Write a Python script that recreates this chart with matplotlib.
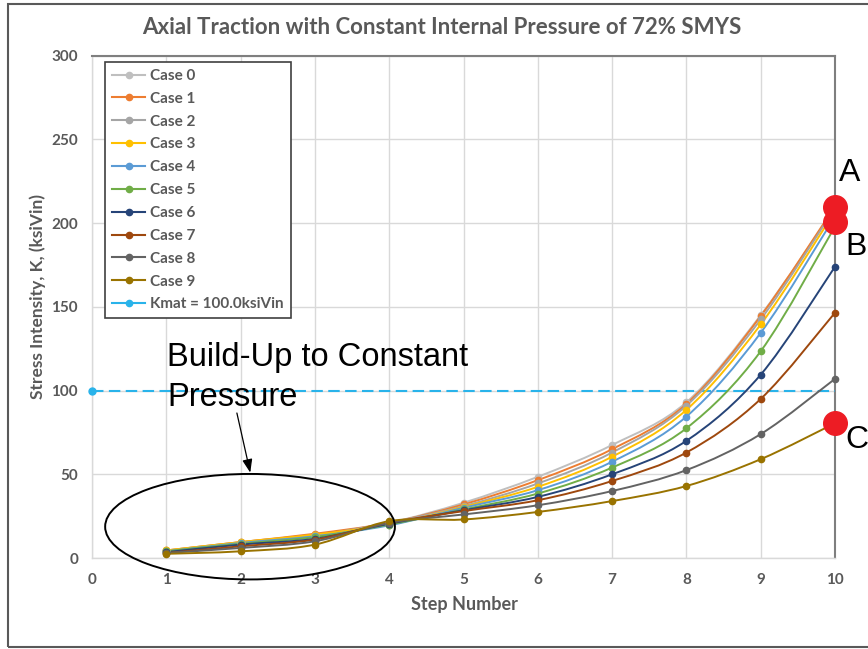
import matplotlib
matplotlib.use("Agg")
import matplotlib.pyplot as plt
from matplotlib.path import Path
from matplotlib.patches import PathPatch, Ellipse, Rectangle
from matplotlib.lines import Line2D

# ---- data -------------------------------------------------------------
steps = [1, 2, 3, 4, 5, 6, 7, 8, 9, 10]
case_names = ["Case 0", "Case 1", "Case 2", "Case 3", "Case 4",
              "Case 5", "Case 6", "Case 7", "Case 8", "Case 9"]
case0 = [4.5, 9.5, 14.0, 21.0, 33.0, 48.5, 67.5, 93.0, 145.0, 209.0]
case1 = [4.5, 9.5, 14.5, 21.0, 32.0, 46.5, 65.0, 92.0, 144.5, 210.0]
case2 = [4.0, 9.0, 13.5, 21.0, 31.0, 44.5, 63.0, 91.0, 142.5, 209.0]
case3 = [4.5, 9.5, 14.0, 20.0, 30.5, 42.5, 60.5, 88.5, 139.5, 207.0]
case4 = [4.0, 9.0, 13.0, 19.5, 30.0, 40.5, 57.5, 84.5, 134.5, 204.0]
case5 = [4.0, 8.5, 12.5, 20.0, 29.0, 38.5, 54.0, 77.5, 123.5, 198.0]
case6 = [3.5, 8.0, 11.5, 20.5, 28.5, 36.5, 50.0, 70.0, 109.5, 174.0]
case7 = [3.0, 7.0, 11.0, 21.0, 28.0, 34.5, 46.0, 63.0, 95.0, 146.5]
case8 = [3.0, 6.0, 10.0, 21.0, 26.0, 31.5, 40.0, 52.5, 74.0, 107.0]
case9 = [2.5, 4.0, 8.0, 22.0, 23.0, 27.5, 34.0, 43.0, 59.0, 80.5]
cases = [case0, case1, case2, case3, case4, case5, case6, case7, case8, case9]

kmat_label = "Kmat = 100.0ksiVin"
kmat_x = [0, 10]
kmat_y = [100.0, 100.0]

# highlighted end points
point_labels = ["A", "B", "C"]
point_x = [10, 10, 10]
point_y = [209.5, 200.5, 80.5]

x_ticks = list(range(0, 11))
y_ticks = [0, 50, 100, 150, 200, 250, 300]

# ---- style ------------------------------------------------------------
colors = ["#BFBFBF", "#ED7D31", "#A5A5A5", "#FFC000", "#5B9BD5",
          "#70AD47", "#264478", "#9E480E", "#636363", "#997300"]
kmat_color = "#29B3EA"
text_gray = "#595959"
grid_gray = "#D9D9D9"
ui_font = ["Lato", "DejaVu Sans"]
note_font = ["Liberation Sans", "DejaVu Sans"]


def smooth_path(xs, ys):
    """Cubic Bezier path through the points (Catmull-Rom style smoothing)."""
    pts = list(zip(xs, ys))
    n = len(pts)
    verts = [pts[0]]
    codes = [Path.MOVETO]
    for i in range(n - 1):
        p0 = pts[i - 1] if i > 0 else pts[i]
        p1 = pts[i]
        p2 = pts[i + 1]
        p3 = pts[i + 2] if i + 2 < n else pts[i + 1]
        c1 = (p1[0] + (p2[0] - p0[0]) / 6.0, p1[1] + (p2[1] - p0[1]) / 6.0)
        c2 = (p2[0] - (p3[0] - p1[0]) / 6.0, p2[1] - (p3[1] - p1[1]) / 6.0)
        verts += [c1, c2, p2]
        codes += [Path.CURVE4, Path.CURVE4, Path.CURVE4]
    return Path(verts, codes)


W, H = 868, 649
fig = plt.figure(figsize=(W / 100, H / 100), dpi=100)
fig.patch.set_facecolor("white")

# outer chart frame
fig.patches.append(Rectangle((8 / W, 1 - 647 / H), 1.2, (647 - 4) / H,
                             transform=fig.transFigure, fill=False,
                             edgecolor="#595959", lw=1.5, clip_on=False))

ax = fig.add_axes([92 / W, 1 - 558 / H, (835 - 92) / W, (558 - 55.7) / H])
ax.set_xlim(0, 10)
ax.set_ylim(0, 300)
ax.set_xticks(x_ticks)
ax.set_yticks(y_ticks)
ax.grid(True, color=grid_gray, lw=1.0)
ax.set_axisbelow(True)
ax.tick_params(length=0, labelsize=11, labelcolor=text_gray)
ax.tick_params(axis="y", pad=10)
ax.tick_params(axis="x", pad=11)
for lab in ax.get_xticklabels() + ax.get_yticklabels():
    lab.set_fontfamily(ui_font)
    lab.set_fontweight("bold")
for side in ("left", "bottom"):
    ax.spines[side].set_color(grid_gray)
    ax.spines[side].set_linewidth(1.0)
for side in ("top", "right"):
    ax.spines[side].set_color("#7F7F7F")
    ax.spines[side].set_linewidth(1.5)

# Kmat threshold
ax.plot(kmat_x, kmat_y, color=kmat_color, lw=1.5, dashes=(5.5, 2.6),
        marker="o", ms=5, markevery=[0], clip_on=False, zorder=3)

# case curves
handles = []
for name, vals, c in zip(case_names, cases, colors):
    ax.add_patch(PathPatch(smooth_path(steps, vals), fill=False,
                           edgecolor=c, lw=1.4, zorder=4))
    ax.plot(steps, vals, linestyle="none", marker="o", ms=4.5,
            color=c, zorder=5, clip_on=False)
    handles.append(Line2D([], [], color=c, lw=1.5, marker="o", ms=4.5,
                          label=name))
handles.append(Line2D([], [], color=kmat_color, lw=1.5, marker="o", ms=4.5,
                      label=kmat_label))

leg = ax.legend(handles=handles, loc="upper left",
                bbox_to_anchor=(0.0175, 0.9875), frameon=True,
                fancybox=False, edgecolor="#404040", framealpha=1,
                handlelength=2.2, handletextpad=0.3, labelspacing=0.58,
                borderpad=0.45, borderaxespad=0.0,
                prop={"family": ui_font, "weight": "bold", "size": 11})
leg.get_frame().set_linewidth(1.2)
for t in leg.get_texts():
    t.set_color(text_gray)

# highlighted points and their letters
ax.plot(point_x, point_y, linestyle="none", marker="o", ms=17,
        color="#ED1C24", zorder=6, clip_on=False)
offsets = [(4, 34), (10, -25), (10, -17)]
for lab, px, py, off in zip(point_labels, point_x, point_y, offsets):
    ax.annotate(lab, (px, py), xytext=off, textcoords="offset pixels",
                ha="left", va="center", fontsize=23, family=note_font,
                color="black", annotation_clip=False, zorder=7)

# build-up annotation
ax.add_patch(Ellipse((2.127, 18.7), 3.90, 63.0, fill=False,
                     edgecolor="black", lw=1.4, clip_on=False, zorder=6))
ax.annotate("", xy=(2.13, 51.0), xytext=(1.95, 86.6),
            arrowprops=dict(arrowstyle="-|>,head_length=0.8,head_width=0.3",
                            color="black", lw=0.9, shrinkA=0, shrinkB=0),
            zorder=6)
ax.text(1.01, 90.8, "Build-Up to Constant\nPressure", fontsize=23.5,
        family=note_font, color="black", ha="left", va="baseline",
        linespacing=1.38, zorder=6)

# titles
fig.text(442 / W, 1 - 27 / H,
         "Axial Traction with Constant Internal Pressure of 72% SMYS",
         ha="center", va="center", fontsize=16, fontweight="bold",
         family=ui_font, color=text_gray)
ax.set_xlabel("Step Number", fontsize=13, fontweight="bold",
              family=ui_font, color=text_gray)
ax.xaxis.set_label_coords(0.5007, -0.0916)
ax.set_ylabel("Stress Intensity, K, (ksiVin)", fontsize=12.5,
              fontweight="bold", family=ui_font, color=text_gray)
ax.yaxis.set_label_coords(-0.073, 0.52)
ax.xaxis.label.set_va("center")
ax.yaxis.label.set_va("center")

fig.savefig("out.png", dpi=100)
